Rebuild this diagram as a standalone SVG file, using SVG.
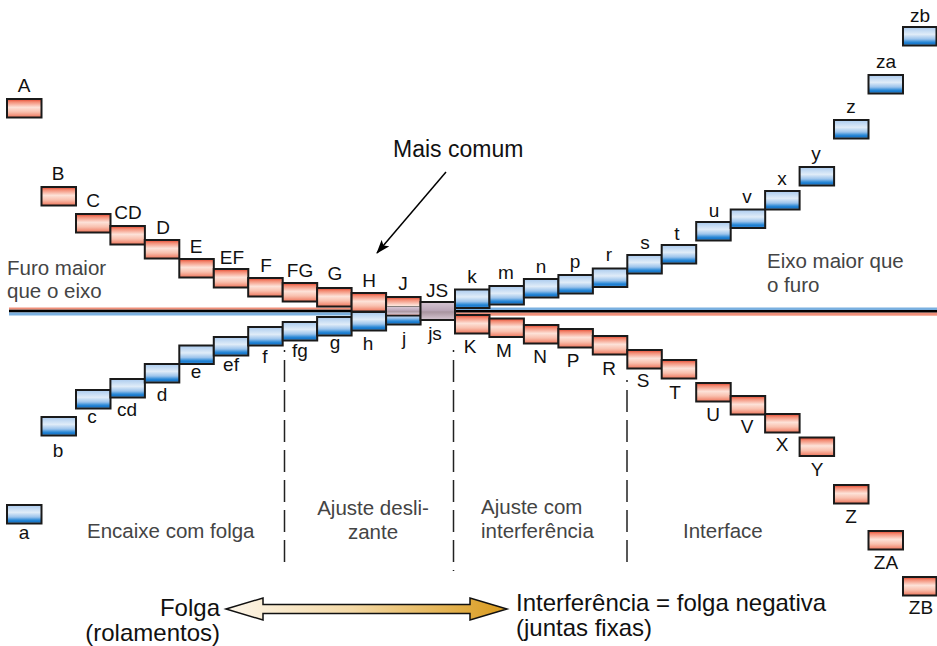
<svg xmlns="http://www.w3.org/2000/svg" width="937" height="646" viewBox="0 0 937 646">
<defs>
<linearGradient id="gRed" x1="0" y1="0" x2="0" y2="1">
<stop offset="0" stop-color="#e33f28"/>
<stop offset="0.15" stop-color="#f38a72"/>
<stop offset="0.45" stop-color="#fde2d8"/>
<stop offset="0.7" stop-color="#f9c0ae"/>
<stop offset="1" stop-color="#ee745a"/>
</linearGradient>
<linearGradient id="gBlue" x1="0" y1="0" x2="0" y2="1">
<stop offset="0" stop-color="#a9caee"/>
<stop offset="0.4" stop-color="#e0ecf8"/>
<stop offset="0.65" stop-color="#9cc4ec"/>
<stop offset="0.82" stop-color="#2a88d6"/>
<stop offset="0.9" stop-color="#1878cc"/>
<stop offset="1" stop-color="#80b6e6"/>
</linearGradient>
<linearGradient id="gGray" x1="0" y1="0" x2="0" y2="1">
<stop offset="0" stop-color="#d6c6d4"/>
<stop offset="0.45" stop-color="#bca8ba"/>
<stop offset="0.55" stop-color="#a8949f"/>
<stop offset="1" stop-color="#d8c8d4"/>
</linearGradient>
<linearGradient id="gArrow" x1="0" y1="0" x2="1" y2="0">
<stop offset="0" stop-color="#fdf6ea"/>
<stop offset="0.45" stop-color="#f4d9a6"/>
<stop offset="1" stop-color="#d99a1c"/>
</linearGradient>
<marker id="ah" viewBox="0 0 14 10" refX="13" refY="5" markerWidth="14" markerHeight="10" markerUnits="userSpaceOnUse" orient="auto">
<path d="M0,0 L14,5 L0,10 L3,5 Z" fill="#000"/>
</marker>
<style>
.hole{fill:url(#gRed);stroke:#1a1a1a;stroke-width:2}
.shaft{fill:url(#gBlue);stroke:#1a1a1a;stroke-width:2}
.mid{fill:url(#gGray);stroke:#1a1a1a;stroke-width:2}
.lbl{font-family:"Liberation Sans",Arial,sans-serif;font-size:19px;fill:#111;text-anchor:middle}
.reg{font-family:"Liberation Sans",Arial,sans-serif;font-size:20.5px;fill:#444}
.big{font-family:"Liberation Sans",Arial,sans-serif;font-size:24px;fill:#111}
.dash{stroke:#222;stroke-width:1.5;stroke-dasharray:22 8;stroke-dashoffset:20;fill:none}
</style>
</defs>
<rect width="937" height="646" fill="#fff"/>

<g id="zero-line">
<rect x="9" y="307.5" width="446" height="2.2" fill="#f0907a"/>
<rect x="9" y="309.7" width="446" height="2.8" fill="#000"/>
<rect x="9" y="312.5" width="446" height="3" fill="#7ab0e0"/>
<rect x="455" y="307.5" width="482" height="2.5" fill="#7ab0e0"/>
<rect x="455" y="310" width="482" height="2.7" fill="#000"/>
<rect x="455" y="312.7" width="482" height="3" fill="#f0907a"/>
</g>

<g id="connectors">
<line class="dash" x1="284.5" y1="350" x2="284.5" y2="566"/>
<line class="dash" x1="453.5" y1="350" x2="453.5" y2="571"/>
<line class="dash" x1="627" y1="380" x2="627" y2="568"/>
<line x1="446" y1="172" x2="377" y2="253" stroke="#000" stroke-width="1.5" marker-end="url(#ah)"/>
<path d="M226,609 L263,598 L263,604.5 L470,604.5 L470,598 L507,609 L470,620 L470,613.5 L263,613.5 L263,620 Z" fill="url(#gArrow)" stroke="#111" stroke-width="1.5" stroke-linejoin="miter"/>
</g>

<g id="node-A"><rect class="hole" x="7" y="99" width="34.5" height="18.5"/><text class="lbl" x="24" y="92">A</text></g>
<g id="node-B"><rect class="hole" x="41.5" y="187" width="34.5" height="18.5"/><text class="lbl" x="58" y="180">B</text></g>
<g id="node-C"><rect class="hole" x="76" y="214" width="34.5" height="18.5"/><text class="lbl" x="93" y="207">C</text></g>
<g id="node-CD"><rect class="hole" x="110.4" y="226" width="34.5" height="18.5"/><text class="lbl" x="128" y="219">CD</text></g>
<g id="node-D"><rect class="hole" x="144.8" y="240" width="34.5" height="18.5"/><text class="lbl" x="163" y="234">D</text></g>
<g id="node-E"><rect class="hole" x="179.3" y="259" width="34.5" height="18.5"/><text class="lbl" x="196" y="253">E</text></g>
<g id="node-EF"><rect class="hole" x="213.8" y="269" width="34.5" height="18.5"/><text class="lbl" x="232" y="264">EF</text></g>
<g id="node-F"><rect class="hole" x="248.2" y="278" width="34.5" height="18.5"/><text class="lbl" x="266" y="272">F</text></g>
<g id="node-FG"><rect class="hole" x="282.7" y="283" width="34.5" height="18.5"/><text class="lbl" x="300" y="277">FG</text></g>
<g id="node-G"><rect class="hole" x="317.1" y="288" width="34.5" height="18.5"/><text class="lbl" x="335" y="280">G</text></g>
<g id="node-H"><rect class="hole" x="351.6" y="293" width="34.5" height="18.5"/><text class="lbl" x="369" y="287">H</text></g>

<g id="node-a"><rect class="shaft" x="7" y="505" width="34.5" height="18.5"/><text class="lbl" x="24" y="539">a</text></g>
<g id="node-b"><rect class="shaft" x="41.5" y="417" width="34.5" height="18.5"/><text class="lbl" x="58" y="457">b</text></g>
<g id="node-c"><rect class="shaft" x="76" y="390" width="34.5" height="18.5"/><text class="lbl" x="92" y="423">c</text></g>
<g id="node-cd"><rect class="shaft" x="110.4" y="379" width="34.5" height="18.5"/><text class="lbl" x="127" y="416">cd</text></g>
<g id="node-d"><rect class="shaft" x="144.8" y="364" width="34.5" height="18.5"/><text class="lbl" x="162" y="401">d</text></g>
<g id="node-e"><rect class="shaft" x="179.3" y="345.5" width="34.5" height="18.5"/><text class="lbl" x="196" y="378">e</text></g>
<g id="node-ef"><rect class="shaft" x="213.8" y="337" width="34.5" height="18.5"/><text class="lbl" x="231" y="371">ef</text></g>
<g id="node-f"><rect class="shaft" x="248.2" y="327" width="34.5" height="18.5"/><text class="lbl" x="265" y="363">f</text></g>
<g id="node-fg"><rect class="shaft" x="282.7" y="322" width="34.5" height="18.5"/><text class="lbl" x="300" y="357">fg</text></g>
<g id="node-g"><rect class="shaft" x="317.1" y="317" width="34.5" height="18.5"/><text class="lbl" x="335" y="349">g</text></g>
<g id="node-h"><rect class="shaft" x="351.6" y="312" width="34.5" height="18.5"/><text class="lbl" x="368" y="350">h</text></g>

<g id="node-j"><rect class="shaft" x="386.1" y="306" width="34.5" height="18.5"/><text class="lbl" x="404" y="345">j</text></g>
<g id="node-J"><rect class="hole" x="386.1" y="297" width="34.5" height="18.5"/><rect x="387.1" y="307" width="32.5" height="7.5" fill="url(#gGray)"/><line x1="387.1" y1="306.5" x2="419.6" y2="306.5" stroke="#666" stroke-width="0.8"/><text class="lbl" x="403" y="290">J</text></g>
<g id="node-JS"><rect class="mid" x="420.5" y="302" width="34.5" height="18"/><text class="lbl" x="437" y="297">JS</text><text class="lbl" x="435" y="340">js</text></g>

<g id="node-k"><rect class="shaft" x="455" y="289.5" width="34.5" height="18.5"/><text class="lbl" x="472" y="283">k</text></g>
<g id="node-m"><rect class="shaft" x="489.4" y="286" width="34.5" height="18.5"/><text class="lbl" x="506" y="279">m</text></g>
<g id="node-n"><rect class="shaft" x="523.9" y="279" width="34.5" height="18.5"/><text class="lbl" x="541" y="273">n</text></g>
<g id="node-p"><rect class="shaft" x="558.4" y="275" width="34.5" height="18.5"/><text class="lbl" x="575" y="268">p</text></g>
<g id="node-r"><rect class="shaft" x="592.8" y="268.5" width="34.5" height="18.5"/><text class="lbl" x="609" y="261">r</text></g>
<g id="node-s"><rect class="shaft" x="627.3" y="255" width="34.5" height="18.5"/><text class="lbl" x="645" y="249">s</text></g>
<g id="node-t"><rect class="shaft" x="661.7" y="245" width="34.5" height="18.5"/><text class="lbl" x="677" y="240">t</text></g>
<g id="node-u"><rect class="shaft" x="696.2" y="222" width="34.5" height="18.5"/><text class="lbl" x="714" y="217">u</text></g>
<g id="node-v"><rect class="shaft" x="730.7" y="209.5" width="34.5" height="18.5"/><text class="lbl" x="747" y="203">v</text></g>
<g id="node-x"><rect class="shaft" x="765.1" y="191" width="34.5" height="18.5"/><text class="lbl" x="782" y="185">x</text></g>
<g id="node-y"><rect class="shaft" x="799.6" y="167" width="34.5" height="18.5"/><text class="lbl" x="816" y="160">y</text></g>
<g id="node-z"><rect class="shaft" x="834" y="120" width="34.5" height="18.5"/><text class="lbl" x="851" y="113">z</text></g>
<g id="node-za"><rect class="shaft" x="868.5" y="75" width="34.5" height="18.5"/><text class="lbl" x="886" y="68">za</text></g>
<g id="node-zb"><rect class="shaft" x="903" y="27" width="33.5" height="18.5"/><text class="lbl" x="920" y="22">zb</text></g>

<g id="node-K"><rect class="hole" x="455" y="315" width="34.5" height="18.5"/><text class="lbl" x="470" y="353">K</text></g>
<g id="node-M"><rect class="hole" x="489.4" y="318.5" width="34.5" height="18.5"/><text class="lbl" x="504" y="357">M</text></g>
<g id="node-N"><rect class="hole" x="523.9" y="325" width="34.5" height="18.5"/><text class="lbl" x="540" y="363">N</text></g>
<g id="node-P"><rect class="hole" x="558.4" y="329" width="34.5" height="18.5"/><text class="lbl" x="573" y="367">P</text></g>
<g id="node-R"><rect class="hole" x="592.8" y="336" width="34.5" height="18.5"/><text class="lbl" x="609" y="375">R</text></g>
<g id="node-S"><rect class="hole" x="627.3" y="350" width="34.5" height="18.5"/><text class="lbl" x="643" y="387">S</text></g>
<g id="node-T"><rect class="hole" x="661.7" y="360" width="34.5" height="18.5"/><text class="lbl" x="675" y="399">T</text></g>
<g id="node-U"><rect class="hole" x="696.2" y="383" width="34.5" height="18.5"/><text class="lbl" x="713" y="421">U</text></g>
<g id="node-V"><rect class="hole" x="730.7" y="396" width="34.5" height="18.5"/><text class="lbl" x="747" y="433">V</text></g>
<g id="node-X"><rect class="hole" x="765.1" y="414" width="34.5" height="18.5"/><text class="lbl" x="782" y="451">X</text></g>
<g id="node-Y"><rect class="hole" x="799.6" y="437.5" width="34.5" height="18.5"/><text class="lbl" x="817" y="476">Y</text></g>
<g id="node-Z"><rect class="hole" x="834" y="485" width="34.5" height="18.5"/><text class="lbl" x="851" y="523">Z</text></g>
<g id="node-ZA"><rect class="hole" x="868.5" y="531" width="34.5" height="18.5"/><text class="lbl" x="886" y="569">ZA</text></g>
<g id="node-ZB"><rect class="hole" x="903" y="577" width="33.5" height="18.5"/><text class="lbl" x="921" y="614">ZB</text></g>

<g id="region-texts">
<text class="reg" x="7" y="275">Furo maior</text>
<text class="reg" x="7" y="298">que o eixo</text>
<text class="reg" x="767" y="268">Eixo maior que</text>
<text class="reg" x="767" y="292">o furo</text>
<text class="reg" x="87" y="538">Encaixe com folga</text>
<text class="reg" x="373" y="515" text-anchor="middle">Ajuste desli-</text>
<text class="reg" x="373" y="539" text-anchor="middle">zante</text>
<text class="reg" x="481" y="514">Ajuste com</text>
<text class="reg" x="481" y="538">interferência</text>
<text class="reg" x="683" y="538">Interface</text>
</g>

<g id="annotations">
<text class="big" x="393" y="157" style="font-size:23px">Mais comum</text>
<text class="big" x="220" y="616" text-anchor="end">Folga</text>
<text class="big" x="220" y="641" text-anchor="end">(rolamentos)</text>
<text class="big" x="516" y="611">Interferência = folga negativa</text>
<text class="big" x="516" y="636">(juntas fixas)</text>
</g>
</svg>
